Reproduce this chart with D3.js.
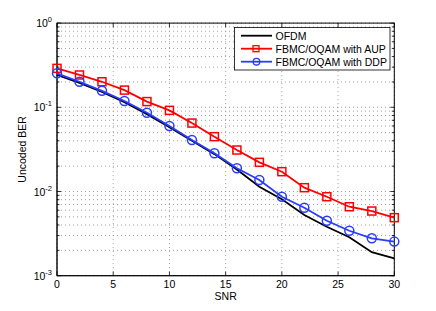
<!DOCTYPE html>
<html><head><meta charset="utf-8">
<script src="https://cdn.jsdelivr.net/npm/d3@7"></script>
<style>body{margin:0;background:#fff}svg{display:block}text{font-family:"Liberation Sans",Arial,sans-serif}</style>
</head><body><svg id="c" width="436" height="311"></svg>
<script>
const snr = [0,2,4,6,8,10,12,14,16,18,20,22,24,26,28,30];
const ofdm = [0.242,0.195,0.152,0.115,0.083,0.058,0.040,0.0278,0.0182,0.0114,0.0081,0.00526,0.00382,0.00286,0.0019,0.00161];
const aup = [0.29,0.242,0.201,0.160,0.117,0.092,0.065,0.0448,0.0311,0.0222,0.0172,0.0111,0.00867,0.00659,0.00586,0.00489];
const ddp = [0.2535,0.201,0.157,0.119,0.0863,0.060,0.0409,0.0284,0.0189,0.0137,0.00867,0.00642,0.00450,0.00342,0.00278,0.00254];
const xTicks = [0,5,10,15,20,25,30];
const yDecades = [-3,-2,-1,0];
const seriesNames = ["OFDM","FBMC/OQAM with AUP","FBMC/OQAM with DDP"];

const svg = d3.select("#c");
const L=57, R=394.3, T=23.1, B=275.7;
const x = d3.scaleLinear().domain([0,30]).range([L,R]);
const y = d3.scaleLog().domain([1e-3,1]).range([B,T]);
const FS = 10.5;

// grid
const g = svg.append("g");
const minor = [];
yDecades.slice(0,3).forEach(d=>{for(let k=1;k<10;k++) minor.push(k*Math.pow(10,d));});
minor.push(1);
g.selectAll(".hy").data(minor).enter().append("line")
 .attr("x1",L).attr("x2",R).attr("y1",d=>y(d)).attr("y2",d=>y(d))
 .attr("stroke","#888").attr("stroke-width",0.8).attr("stroke-dasharray","1,3");
g.selectAll(".vx").data(xTicks).enter().append("line")
 .attr("y1",T).attr("y2",B).attr("x1",d=>x(d)).attr("x2",d=>x(d))
 .attr("stroke","#888").attr("stroke-width",0.8).attr("stroke-dasharray","1,3");

// ticks inside (all 4 sides)
const tk = svg.append("g").attr("stroke","#000").attr("stroke-width",0.8);
xTicks.forEach(v=>{
  tk.append("line").attr("x1",x(v)).attr("x2",x(v)).attr("y1",B).attr("y2",B-4);
  tk.append("line").attr("x1",x(v)).attr("x2",x(v)).attr("y1",T).attr("y2",T+4);
});
minor.forEach(v=>{
  const major = Math.abs(Math.log10(v)-Math.round(Math.log10(v)))<1e-9;
  const len = major?4:2.5;
  tk.append("line").attr("x1",L).attr("x2",L+len).attr("y1",y(v)).attr("y2",y(v));
  tk.append("line").attr("x1",R).attr("x2",R-len).attr("y1",y(v)).attr("y2",y(v));
});
tk.append("line").attr("x1",L).attr("x2",L).attr("y1",T).attr("y2",B);
tk.append("line").attr("x1",L).attr("x2",R).attr("y1",B).attr("y2",B);
svg.append("rect").attr("x",L).attr("y",T).attr("width",R-L).attr("height",B-T)
 .attr("fill","none").attr("stroke","#000").attr("stroke-width",1);

// tick labels
svg.selectAll(".xl").data(xTicks).enter().append("text")
 .attr("x",d=>x(d)).attr("y",B+12.5).attr("text-anchor","middle").attr("font-size",FS).text(d=>d);
yDecades.forEach(d=>{
  const t = svg.append("text").attr("x",L-5).attr("y",y(Math.pow(10,d))+4).attr("text-anchor","end").attr("font-size",FS);
  t.append("tspan").text("10");
  t.append("tspan").attr("font-size",7.5).attr("dy",-5).text(d);
});
svg.append("text").attr("x",(L+R)/2).attr("y",300).attr("text-anchor","middle").attr("font-size",FS).text("SNR");
svg.append("text").attr("transform",`translate(26,${(T+B)/2}) rotate(-90)`).attr("text-anchor","middle").attr("font-size",FS).text("Uncoded BER");

// series
const line = d3.line().x((d,i)=>x(snr[i])).y(d=>y(d));
const blue = "#2a3cff";
svg.append("path").attr("d",line(ofdm)).attr("fill","none").attr("stroke","#000").attr("stroke-width",1.8);
svg.append("path").attr("d",line(aup)).attr("fill","none").attr("stroke","#ff0000").attr("stroke-width",1.8);
svg.selectAll(".sq").data(aup).enter().append("rect")
 .attr("x",(d,i)=>x(snr[i])-4).attr("y",d=>y(d)-4).attr("width",8).attr("height",8)
 .attr("fill","none").attr("stroke","#ff0000").attr("stroke-width",1.5);
svg.append("path").attr("d",line(ddp)).attr("fill","none").attr("stroke",blue).attr("stroke-width",1.8);
svg.selectAll(".ci").data(ddp).enter().append("circle")
 .attr("cx",(d,i)=>x(snr[i])).attr("cy",d=>y(d)).attr("r",4.5)
 .attr("fill","none").attr("stroke",blue).attr("stroke-width",1.5);

// legend
const lg = svg.append("g");
lg.append("rect").attr("x",234.5).attr("y",27.5).attr("width",155.5).attr("height",42.5)
 .attr("fill","#fff").attr("stroke","#000").attr("stroke-width",0.8);
const lcols = ["#000","#ff0000",blue];
seriesNames.forEach((n,i)=>{
  const yy = 35.7+i*13;
  lg.append("line").attr("x1",241).attr("x2",272).attr("y1",yy).attr("y2",yy).attr("stroke",lcols[i]).attr("stroke-width",1.8);
  if(i===1) lg.append("rect").attr("x",253).attr("y",yy-3).attr("width",6).attr("height",6).attr("fill","none").attr("stroke",lcols[i]).attr("stroke-width",1.3);
  if(i===2) lg.append("circle").attr("cx",256.5).attr("cy",yy).attr("r",3.3).attr("fill","none").attr("stroke",lcols[i]).attr("stroke-width",1.3);
  lg.append("text").attr("x",275.5).attr("y",yy+4).attr("font-size",FS).text(n);
});
</script></body></html>
